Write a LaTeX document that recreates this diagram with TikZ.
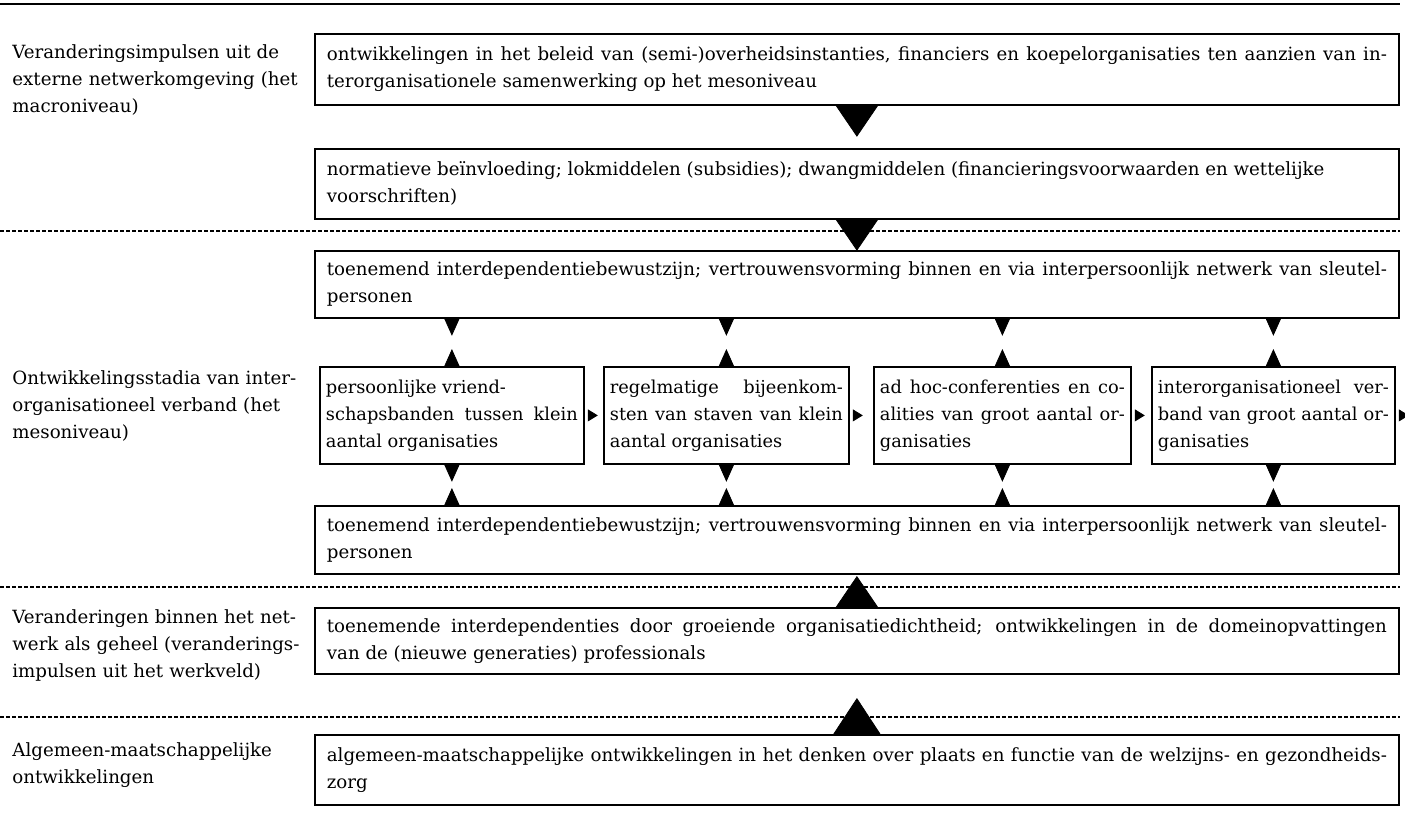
\documentclass[tikz,border=0pt]{standalone}
\usepackage{fontspec}
\setmainfont{DejaVu Serif}
\usetikzlibrary{arrows.meta}

\tikzset{
  tekst/.style={font=\fontsize{9.1}{13.5}\selectfont},
  vak/.style={tekst, draw, line width=0.9pt, anchor=north west, inner xsep=6pt, inner ysep=0pt, align=justify, text width=530pt},
  stadium/.style={vak, font=\fontsize{8.9}{13.5}\selectfont, inner xsep=3pt, minimum height=48.5pt},
  niveau/.style={tekst, anchor=north west, inner sep=0pt, align=left, text width=150pt},
  scheiding/.style={line width=0.6pt, dash pattern=on 2pt off 1pt},
  grootpijl/.style={line width=0.4pt, -{Triangle[length=15.5pt,width=21pt]}},
  kleinpijl/.style={line width=0.4pt, -{Triangle[length=8.5pt,width=7.5pt]}},
  zijpijl/.style={line width=0.4pt, -{Triangle[length=5pt,width=6pt]}}
}

\begin{document}
\begin{tikzpicture}[x=0.5pt, y=-0.5pt]
      \useasboundingbox (0,0) rectangle (1405,816);
      \draw[line width=1pt] (0,4)--(1400,4);
      \draw[scheiding] (0,231)--(1400,231);
      \draw[scheiding] (0,587)--(1400,587);
      \draw[scheiding] (0,717)--(1400,717);

      \node[niveau] (lbmacro) at (12,44) {Veranderingsimpulsen uit de\\externe netwerkomgeving (het\\macroniveau)};
      \node[niveau] (lbmeso) at (12,370) {Ontwikkelingsstadia van inter-\\organisationeel verband (het\\mesoniveau)};
      \node[niveau] (lbnetwerk) at (12,609) {Veranderingen binnen het net-\\werk als geheel (veranderings-\\impulsen uit het werkveld)};
      \node[niveau] (lbalgemeen) at (12,742) {Algemeen-maatschappelijke\\ontwikkelingen};

      \node[vak, minimum height=35.5pt] (beleid) at (314,33) {ontwikkelingen in het beleid van (semi-)overheidsinstanties, financiers en koepelorganisaties ten aanzien van in-\linebreak terorganisationele samenwerking op het mesoniveau};
      \node[vak, minimum height=35pt] (middelen) at (314,148) {normatieve beïnvloeding; lokmiddelen (subsidies); dwangmiddelen (financieringsvoorwaarden en wettelijke\newline voorschriften)};
      \node[vak, minimum height=33.5pt] (bewustboven) at (314,250) {toenemend interdependentiebewustzijn; vertrouwensvorming binnen en via interpersoonlijk netwerk van sleutel-\linebreak personen};

      \node[stadium, text width=126pt] (stA) at (319,366) {persoonlijke vriend-\newline schapsbanden tussen klein\linebreak aantal organisaties};
      \node[stadium, text width=116.5pt] (stB) at (603,366) {regelmatige bijeenkom-\linebreak sten van staven van klein\linebreak aantal organisaties};
      \node[stadium, text width=122.5pt] (stC) at (873,366) {ad hoc-conferenties en co-\linebreak alities van groot aantal or-\linebreak ganisaties};
      \node[stadium, text width=115.5pt] (stD) at (1151,366) {interorganisationeel ver-\linebreak band van groot aantal or-\linebreak ganisaties};

      \node[vak, minimum height=34pt] (bewustonder) at (314,505) {toenemend interdependentiebewustzijn; vertrouwensvorming binnen en via interpersoonlijk netwerk van sleutel-\linebreak personen};
      \node[vak, minimum height=33pt] (netwerk) at (314,607) {toenemende interdependenties door groeiende organisatiedichtheid; ontwikkelingen in de domeinopvattingen\linebreak van de (nieuwe generaties) professionals};
      \node[vak, minimum height=35pt] (maatschappij) at (314,734) {algemeen-maatschappelijke ontwikkelingen in het denken over plaats en functie van de welzijns- en gezondheids-\linebreak zorg};

      \draw[grootpijl] (beleid.south)--++(0,31);
      \draw[grootpijl] (middelen.south)--++(0,31);
      \draw[grootpijl] (netwerk.north)--++(0,-31);
      \draw[line width=0.4pt, -{Triangle[length=18pt,width=23.5pt]}] (maatschappij.north)--++(0,-36);

      \foreach \st in {stA,stB,stC,stD}{
        \draw[kleinpijl] (\st.north |- bewustboven.south)--++(0,17);
        \draw[kleinpijl] (\st.north)--++(0,-17);
        \draw[kleinpijl] (\st.south)--++(0,17);
        \draw[kleinpijl] (\st.south |- bewustonder.north)--++(0,-17);
      }
      \foreach \st in {stA,stB,stC,stD}
        \draw[zijpijl] ([xshift=1.5pt]\st.east)--++(10,0);
    \end{tikzpicture}
\end{document}
